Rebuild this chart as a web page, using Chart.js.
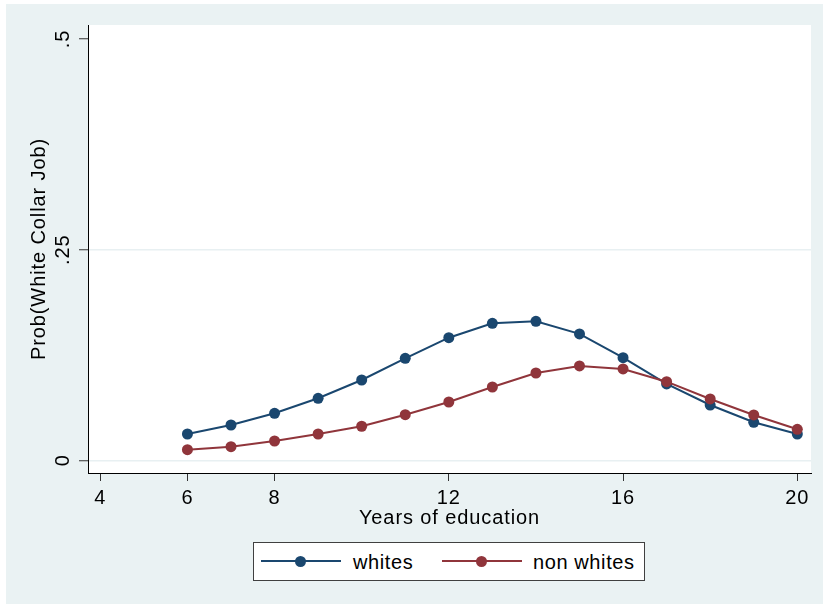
<!DOCTYPE html>
<html><head><meta charset="utf-8">
<script src="https://cdn.jsdelivr.net/npm/chart.js@4/dist/chart.umd.min.js"></script>
<style>
html,body{margin:0;padding:0;background:#fff;}
#wrap{position:relative;width:823px;height:604px;overflow:hidden;}
#bg{position:absolute;left:6px;top:4px;right:0;bottom:0;background:#eaf2f3;}
#c{position:absolute;left:0;top:0;}
#legend{position:absolute;left:253px;top:542px;width:390px;height:37px;background:#fff;border:1px solid #404040;font-family:"Liberation Sans",Arial,sans-serif;font-size:20px;letter-spacing:0.6px;color:#000;}
.ln{position:absolute;top:17px;width:80px;height:2px;}
.dot{position:absolute;top:13px;width:11px;height:11px;border-radius:50%;}
.lbl{position:absolute;top:8px;white-space:nowrap;line-height:22px;}
</style></head>
<body>
<div id="wrap">
  <div id="bg"></div>
  <canvas id="c" width="823" height="604"></canvas>
  <div id="legend"></div>
</div>
<script>
const years = [6,7,8,9,10,11,12,13,14,15,16,17,18,19,20];
const whites = [0.0312,0.0419,0.0558,0.0736,0.0953,0.121,0.1455,0.1626,0.165,0.150,0.1218,0.0906,0.0656,0.0451,0.0312];
const nonWhites = [0.0126,0.0161,0.0229,0.0312,0.0404,0.0541,0.0692,0.087,0.1036,0.112,0.1084,0.0933,0.0728,0.0538,0.0368];
const xTicks = [4,6,8,12,16,20];
const yTicks = [0,0.25,0.5];
const yTickLabels = ['0','.25','.5'];
const seriesLabels = ['whites','non whites'];
const seriesColors = ['#1a476f','#90353b'];

const FONT = '"Liberation Sans", Arial, sans-serif';
const FS = 20;

// legend (HTML)
const legendPos = [{line:7, dot:41, text:99},{line:188, dot:222, text:279}];
const lg = document.getElementById('legend');
seriesLabels.forEach((lab,i)=>{
  const p = legendPos[i];
  const ln = document.createElement('div'); ln.className='ln'; ln.style.left=p.line+'px'; ln.style.background=seriesColors[i]; lg.appendChild(ln);
  const d = document.createElement('div'); d.className='dot'; d.style.left=p.dot+'px'; d.style.background=seriesColors[i]; lg.appendChild(d);
  const t = document.createElement('div'); t.className='lbl'; t.style.left=p.text+'px'; t.textContent=lab; lg.appendChild(t);
});

const plotPlugin = {
  id:'plotbg',
  beforeDraw(chart){
    const {ctx, chartArea:a} = chart;
    ctx.save();
    ctx.fillStyle = '#ffffff';
    ctx.fillRect(a.left, a.top, a.right-a.left, a.bottom-a.top);
    ctx.restore();
    ctx.letterSpacing = '0.9px';
  },
  afterDraw(chart){
    const {ctx} = chart; const ys = chart.scales.y;
    ctx.save();
    ctx.font = FS + 'px ' + FONT; ctx.fillStyle = '#000'; ctx.textAlign='center'; ctx.textBaseline='middle';
    yTicks.forEach((v,i)=>{
      const py = ys.getPixelForValue(v);
      ctx.save(); ctx.translate(63, py); ctx.rotate(-Math.PI/2); ctx.fillText(yTickLabels[i],0,0); ctx.restore();
    });
    ctx.restore();
  }
};

const mk = (arr)=> years.map((x,i)=>({x:x, y:arr[i]}));

new Chart(document.getElementById('c'), {
  type:'line',
  data:{ datasets:[
    {label:seriesLabels[0], data:mk(whites), borderColor:seriesColors[0], backgroundColor:seriesColors[0], order:1},
    {label:seriesLabels[1], data:mk(nonWhites), borderColor:seriesColors[1], backgroundColor:seriesColors[1], order:0}
  ]},
  options:{
    responsive:false, animation:false, devicePixelRatio:1,
    layout:{padding:{left:0,right:12,top:25,bottom:0}},
    elements:{
      line:{borderWidth:2, tension:0, fill:false},
      point:{radius:5.5, hoverRadius:5.5, borderWidth:0}
    },
    plugins:{legend:{display:false}, tooltip:{enabled:false}},
    scales:{
      x:{type:'linear', min:3.7176, max:20.3145,
        afterBuildTicks(s){ s.ticks = xTicks.map(v=>({value:v})); },
        afterFit(s){ s.height = 131; },
        ticks:{font:{family:FONT,size:FS}, color:'#000', padding:5, autoSkip:false, maxRotation:0, minRotation:0, callback:v=>String(v)},
        grid:{drawOnChartArea:false, drawTicks:true, tickLength:8, tickColor:'#333', tickWidth:1},
        border:{display:true, color:'#000', width:1},
        title:{display:true, text:'Years of education', font:{family:FONT,size:FS}, color:'#000', padding:{top:0,bottom:73.5}}
      },
      y:{type:'linear', min:-0.01507, max:0.5166,
        afterBuildTicks(s){ s.ticks = yTicks.map(v=>({value:v})); },
        afterFit(s){ s.width = 88; },
        ticks:{display:false},
        grid:{color:(c)=> (c.tick && c.tick.value===0.5) ? 'rgba(0,0,0,0)' : '#e8f0f2', lineWidth:1.5, drawTicks:true, tickLength:9, tickColor:'#333', tickWidth:1},
        border:{display:true, color:'#000', width:1},
        title:{display:true, text:'Prob(White Collar Job)', font:{family:FONT,size:FS}, color:'#000', padding:{top:27,bottom:0}}
      }
    }
  },
  plugins:[plotPlugin]
});
</script>
</body></html>
